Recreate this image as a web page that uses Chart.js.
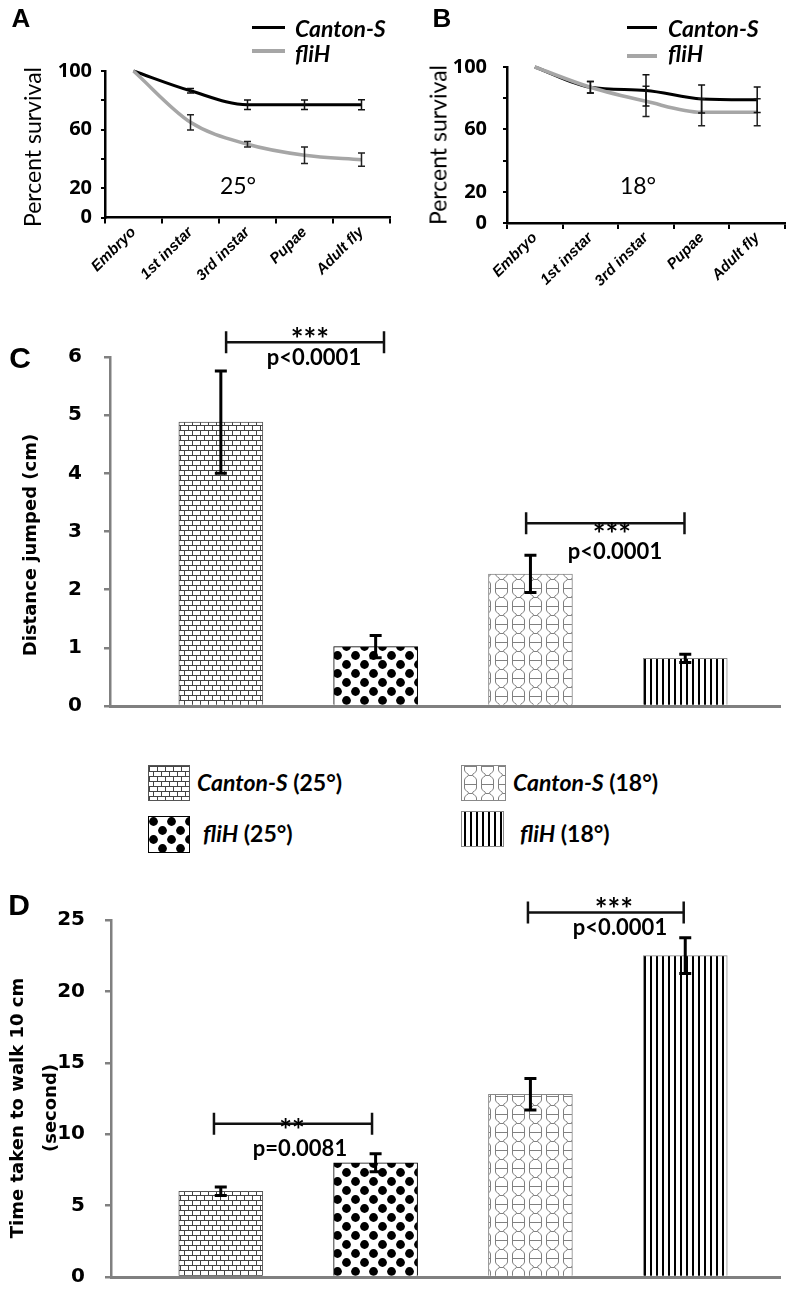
<!DOCTYPE html>
<html>
<head>
<meta charset="utf-8">
<script src="https://cdn.jsdelivr.net/npm/chart.js@4"></script>
<style>
body{margin:0;background:#fff;}
#page{position:relative;width:789px;height:1309px;overflow:hidden;font-family:Lato,sans-serif;color:#000;}
canvas{position:absolute;}
.t{position:absolute;white-space:nowrap;line-height:1;}
.c{transform:translate(-50%,-50%);}
.l{transform:translate(0,-50%);}
.r{transform:translate(-50%,-50%) rotate(-90deg);text-align:center;}
.sw{position:absolute;border:1px solid #666;box-sizing:border-box;}
</style>
</head>
<body>
<div id="page">
<canvas id="chartA" width="395" height="300" style="left:0;top:0"></canvas>
<canvas id="chartB" width="394" height="300" style="left:395px;top:0"></canvas>
<canvas id="chartC" width="789" height="440" style="left:0;top:300px"></canvas>
<canvas id="chartD" width="789" height="429" style="left:0;top:880px"></canvas>
</div>
<script>
// survival data (A = 25°, B = 18°)
const stages=["Embryo","1st instar","3rd instar","Pupae","Adult fly"];
const canton25=[100,86.5,77,77,77];
const canton25Err=[0,1.5,3.2,3.2,3.4];
const fli25=[100,65,50,42.5,39.5];
const fli25Err=[0,5.2,1.8,5.7,4.6];
const canton18=[100,87,85,79.5,79];
const canton18Err=[0,3.7,10,9,8.2];
const fli18=[100,87,78,71,71];
const fli18Err=[0,3.7,9.7,8.6,8.6];
const survivalTicks=[100,60,20,0];

// jump / walk data
const groups=["Canton-S (25°)","fliH (25°)","Canton-S (18°)","fliH (18°)"];
const jumpMeans=[4.88,1.02,2.27,0.82];
const jumpErr=[0.88,0.19,0.32,0.07];
const walkMeans=[6.0,8.0,12.8,22.5];
const walkErr=[0.3,0.63,1.1,1.25];

const page=document.getElementById("page");

function text(html,x,y,cls,css){
const d=document.createElement("div");
d.className="t "+cls;
d.innerHTML=html;
d.style.left=x+"px";d.style.top=y+"px";
Object.assign(d.style,css||{});
page.appendChild(d);
return d;
}

function makePattern(kind){
const c=document.createElement("canvas");
const g=c.getContext("2d");
if(kind==="brick"){
c.width=16;c.height=10;
g.fillStyle="#fff";g.fillRect(0,0,16,10);
g.strokeStyle="#444";g.lineWidth=1;g.beginPath();
g.moveTo(0,0.5);g.lineTo(16,0.5);g.moveTo(0,5.5);g.lineTo(16,5.5);
g.moveTo(0.5,0);g.lineTo(0.5,5);g.moveTo(8.5,0);g.lineTo(8.5,5);
g.moveTo(4.5,5);g.lineTo(4.5,10);g.moveTo(12.5,5);g.lineTo(12.5,10);
g.stroke();
}else if(kind==="dots"){
c.width=18;c.height=18;
g.fillStyle="#fff";g.fillRect(0,0,18,18);
g.fillStyle="#000";
[[4.5,4.5],[13.5,13.5]].forEach(p=>{g.beginPath();g.arc(p[0],p[1],4.4,0,Math.PI*2);g.fill();});
}else if(kind==="hourglass"){
c.width=17;c.height=18;
g.fillStyle="#fff";g.fillRect(0,0,17,18);
g.strokeStyle="#808080";g.lineWidth=1;g.beginPath();
g.moveTo(2.5,0);g.lineTo(2.5,4);g.bezierCurveTo(2.5,7,6.5,7,6.5,9);g.bezierCurveTo(6.5,11,2.5,11,2.5,14);g.lineTo(2.5,18);
g.moveTo(14.5,0);g.lineTo(14.5,4);g.bezierCurveTo(14.5,7,10.5,7,10.5,9);g.bezierCurveTo(10.5,11,14.5,11,14.5,14);g.lineTo(14.5,18);
g.moveTo(6.5,9.5);g.lineTo(10.5,9.5);
g.moveTo(2.5,0.5);g.lineTo(14.5,0.5);
g.stroke();
}else{
c.width=6;c.height=4;
g.fillStyle="#fff";g.fillRect(0,0,6,4);
g.fillStyle="#000";g.fillRect(2,0,2,4);
}
return g.createPattern(c,"repeat");
}
const kinds=["brick","dots","hourglass","stripes"];
const patterns=kinds.map(makePattern);
const barBorders=["#555","#000","#888","#888"];

// error bars drawn from the dataset's errors array
const errorBars={
id:"errorBars",
afterDatasetsDraw(chart){
const ctx=chart.ctx,y=chart.scales.y;
chart.data.datasets.forEach((ds,i)=>{
if(!ds.errors)return;
const meta=chart.getDatasetMeta(i);
ctx.save();
ctx.strokeStyle=ds.errorColor||"#000";
ctx.lineWidth=ds.errorWidth||1.5;
meta.data.forEach((el,j)=>{
const e=ds.errors[j];
if(!e)return;
const raw=ds.data[j];
const v=typeof raw==="object"?raw.y:raw;
const top=y.getPixelForValue(v+e),bot=y.getPixelForValue(v-e);
const w=(ds.capWidth||7)/2;
ctx.beginPath();
ctx.moveTo(el.x,top);ctx.lineTo(el.x,bot);
ctx.moveTo(el.x-w,top);ctx.lineTo(el.x+w,top);
ctx.moveTo(el.x-w,bot);ctx.lineTo(el.x+w,bot);
ctx.stroke();
});
ctx.restore();
});
}
};

// significance brackets
const brackets={
id:"brackets",
afterDraw(chart,args,opts){
if(!opts.items)return;
const {ctx,scales:{x,y}}=chart;
ctx.save();
ctx.strokeStyle="#111";ctx.lineWidth=2.5;
opts.items.forEach(b=>{
const x1=x.getPixelForValue(b[0]),x2=x.getPixelForValue(b[1]),yy=y.getPixelForValue(b[2]);
ctx.beginPath();
ctx.moveTo(x1,yy);ctx.lineTo(x2,yy);
ctx.moveTo(x1,yy-11);ctx.lineTo(x1,yy+11);
ctx.moveTo(x2,yy-11);ctx.lineTo(x2,yy+11);
ctx.stroke();
});
ctx.restore();
}
};

function survivalChart(id,canton,cantonErr,fli,fliErr,area){
return new Chart(document.getElementById(id),{
type:"line",
data:{labels:stages,datasets:[
{label:"fliH",data:fli,errors:fliErr,borderColor:"#a6a6a6",borderWidth:3.5,cubicInterpolationMode:"monotone",pointRadius:0,clip:false,errorColor:"#222"},
{label:"Canton-S",data:canton,errors:cantonErr,borderColor:"#000",borderWidth:3,cubicInterpolationMode:"monotone",pointRadius:0,clip:false,errorColor:"#111"}
]},
options:{
responsive:false,animation:false,
layout:{padding:{left:0,right:area.right,top:area.top,bottom:0}},
plugins:{legend:{display:false},tooltip:{enabled:false}},
scales:{
x:{offset:true,
grid:{offset:true,drawOnChartArea:false,color:"#000",lineWidth:2,tickLength:6},
border:{color:"#000",width:2.5},
ticks:{color:"#000",font:{family:"Liberation Sans",size:15,weight:"bold",style:"italic"},minRotation:45,maxRotation:45,autoSkip:false,padding:0},
afterFit(s){s.height=area.xh;}},
y:{min:0,max:100,
grid:{drawOnChartArea:false,color:"#000",lineWidth:2,tickLength:4},
border:{color:"#000",width:2.5},
ticks:{stepSize:20,color:"#000",padding:area.pad,font:{family:"Open Sans",size:20,weight:"bold"},
callback:v=>survivalTicks.includes(v)?v:""},
afterFit(s){s.width=area.yw;}}
}
},
plugins:[errorBars]
});
}

survivalChart("chartA",canton25,canton25Err,fli25,fli25Err,{right:5,top:71,xh:82.5,yw:105,pad:9});
survivalChart("chartB",canton18,canton18Err,fli18,fli18Err,{right:4,top:67,xh:77,yw:112,pad:16});

function barChart(id,means,errs,opt){
return new Chart(document.getElementById(id),{
type:"bar",
data:{datasets:[{
label:"mean",
data:means.map((v,i)=>({x:i+1,y:v})),
errors:errs,errorWidth:3,capWidth:12,errorColor:"#000",
backgroundColor:patterns,borderColor:barBorders,borderWidth:1,
barThickness:84
}]},
options:{
responsive:false,animation:false,
layout:{padding:{left:0,right:9,top:opt.top,bottom:0}},
plugins:{legend:{display:false},tooltip:{enabled:false},brackets:{items:opt.brackets}},
scales:{
x:{type:"linear",offset:false,min:opt.xmin,max:opt.xmax,
ticks:{display:false},grid:{display:false},
border:{color:"#808080",width:3},
afterFit(s){s.height=opt.xh;}},
y:{min:0,max:opt.max,
grid:{drawOnChartArea:false,color:"#808080",lineWidth:2.5,tickLength:6},
border:{color:"#808080",width:2.5},
ticks:{stepSize:opt.step,color:"#000",padding:opt.pad,font:{family:"DejaVu Sans",size:20,weight:"bold"}},
afterFit(s){s.width=opt.yw;}}
}
},
plugins:[errorBars,brackets]
});
}

barChart("chartC",jumpMeans,jumpErr,{top:57,xh:7,yw:110,max:6,step:1,pad:22,xmin:0.284,xmax:4.612,
brackets:[[1.034,2.054,6.255],[2.972,3.995,3.143]]});
barChart("chartD",walkMeans,walkErr,{top:40,xh:15,yw:111,max:25,step:5,pad:20,xmin:0.291,xmax:4.612,
brackets:[[0.956,1.977,10.73],[2.984,3.99,25.53]]});

// panel letters
const letterCss={fontFamily:"Liberation Sans",fontWeight:"bold"};
text("A",21,18,"c",Object.assign({fontSize:"26px"},letterCss));
text("B",442,18,"c",Object.assign({fontSize:"26px"},letterCss));
text("C",20,358,"c",Object.assign({fontSize:"30px"},letterCss));
text("D",19,905,"c",Object.assign({fontSize:"30px"},letterCss));

// survival legends
function lineKey(x,y,w,color,h){
const d=document.createElement("div");
Object.assign(d.style,{position:"absolute",left:x+"px",top:(y-h/2)+"px",width:w+"px",height:h+"px",background:color});
page.appendChild(d);
}
const keyCss={fontSize:"23px",fontWeight:"bold",fontStyle:"italic"};
lineKey(252,27,33,"#000",3);text("Canton-S",295,28,"l",keyCss);
lineKey(252,51,33,"#a6a6a6",3.5);text("fliH",295,53,"l",keyCss);
lineKey(627,27,30,"#000",3);text("Canton-S",668,28,"l",keyCss);
lineKey(627,56,30,"#a6a6a6",3.5);text("fliH",668,53,"l",keyCss);

text("25°",238,185,"c",{fontSize:"23px"});
text("18°",638,185,"c",{fontSize:"23px"});
text("Percent survival",32,147,"r",{fontSize:"23px"});
text("Percent survival",438,145,"r",{fontSize:"23px"});

const titleCss={fontFamily:"DejaVu Sans",fontWeight:"bold",fontSize:"18px"};
text("Distance jumped (cm)",30,545,"r",titleCss);
text("Time taken to walk 10 cm<br>(second)",33,1108,"r",Object.assign({lineHeight:"33px",fontSize:"17px"},titleCss));

// significance labels
const sigCss={fontSize:"22px",fontWeight:"bold"};
const starCss={fontSize:"30px",fontWeight:"bold"};
text("***",310,338,"c",starCss);text("p&lt;0.0001",314,357,"c",sigCss);
text("***",612,533,"c",starCss);text("p&lt;0.0001",615,551,"c",sigCss);
text("**",292,1129,"c",starCss);text("p=0.0081",300,1148,"c",sigCss);
text("***",614,908,"c",starCss);text("p&lt;0.0001",620,927,"c",sigCss);

// bar legend with pattern swatches
const swatches=[[148,765,40,34],[148,816,40,35],[461,765,43,34],[461,811,41,34]];
const legendText=["<i>Canton-S</i> (25°)","<i>fliH</i> (25°)","<i>Canton-S</i> (18°)","<i>fliH</i> (18°)"];
const legendPos=[[197,782],[203,833],[513,782],[520,833]];
groups.forEach((name,i)=>{
const s=swatches[i];
const c=document.createElement("canvas");
c.width=s[2];c.height=s[3];c.className="sw";
c.style.left=s[0]+"px";c.style.top=s[1]+"px";
c.style.borderColor=barBorders[i];
c.title=name;
const g=c.getContext("2d");
g.fillStyle=patterns[i];g.fillRect(0,0,s[2],s[3]);
page.appendChild(c);
text(legendText[i],legendPos[i][0],legendPos[i][1],"l",{fontSize:"23px",fontWeight:"bold"});
});
</script>
</body>
</html>
